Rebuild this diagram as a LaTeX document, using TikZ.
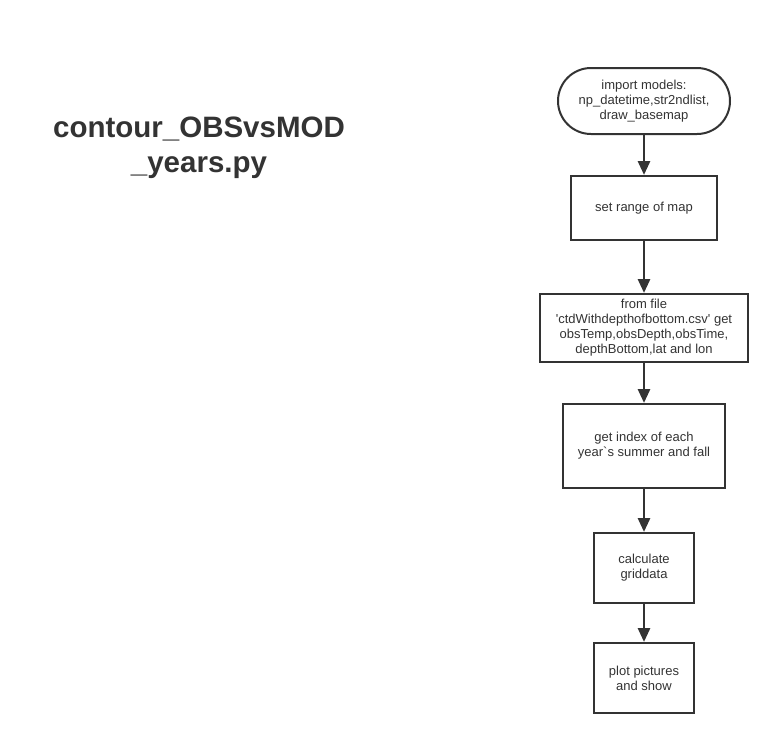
\documentclass[tikz,border=0pt]{standalone}
\usepackage{fontspec}
\setmainfont{Liberation Sans}
\usetikzlibrary{arrows.meta,shapes.misc}
\definecolor{ink}{HTML}{333333}
\begin{document}
\begin{tikzpicture}[x=1pt,y=-1pt,
  box/.style={draw=ink,line width=2pt,rectangle,align=center,font=\fontsize{13}{15}\selectfont,text=ink,inner sep=0pt},
  term/.style={box,rounded rectangle},
  flow/.style={draw=ink,line width=2.8pt,-{Triangle[length=14pt,width=12pt]}}]
\useasboundingbox (0,0) rectangle (779,745);
\node[term,minimum width=172pt,minimum height=66pt] (n1) at (644,101) {import models:\\np\_datetime,str2ndlist,\\draw\_basemap};
\node[box,minimum width=146pt,minimum height=64pt] (n2) at (644,208) {set range of map};
\node[box,minimum width=208pt,minimum height=68pt] (n3) at (644,328) {from file\\\textquotesingle ctdWithdepthofbottom.csv\textquotesingle\ get\\obsTemp,obsDepth,obsTime,\\depthBottom,lat and lon};
\node[box,minimum width=162pt,minimum height=84pt] (n4) at (644,446) {get index of each\\year\textasciigrave s summer and fall};
\node[box,minimum width=100pt,minimum height=70pt] (n5) at (644,568) {calculate\\griddata};
\node[box,minimum width=100pt,minimum height=70pt] (n6) at (644,678) {plot pictures\\and show};
\node[align=center,text=ink,font=\fontsize{29.5}{35}\selectfont\bfseries] (title) at (199,148) {contour\_OBSvsMOD\\\_years.py};
\draw[flow] (n1) -- (n2);
\draw[flow] (n2) -- (n3);
\draw[flow] (n3) -- (n4);
\draw[flow] (n4) -- (n5);
\draw[flow] (n5) -- (n6);
\end{tikzpicture}
\end{document}
